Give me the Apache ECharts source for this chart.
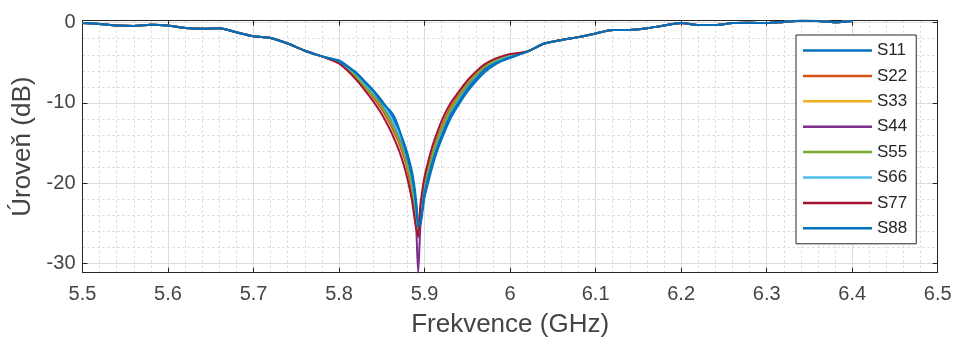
<!DOCTYPE html>
<html>
<head>
<meta charset="utf-8">
<title>S-parametry</title>
<script src="https://cdn.jsdelivr.net/npm/echarts@6/dist/echarts.min.js"></script>
<style>
  html, body { margin: 0; padding: 0; background: #ffffff; }
  #chart { width: 955px; height: 343px; }
</style>
</head>
<body>
<div id="chart"></div>
<script>
// Frequency points (GHz): lower tail, resonance region, upper tail
const freqLow = [5.50, 5.52, 5.54, 5.56, 5.58, 5.60, 5.62, 5.64, 5.66, 5.68, 5.70, 5.72, 5.74, 5.76, 5.78];
const freqDip = [5.80, 5.81, 5.82, 5.83, 5.84, 5.85, 5.86, 5.865, 5.87, 5.875, 5.88, 5.885, 5.8875, 5.89, 5.8925,
                 5.895, 5.8975, 5.90, 5.905, 5.91, 5.915, 5.92, 5.93, 5.94, 5.95, 5.96, 5.97, 5.98, 5.99, 6.00];
const freqHigh = [6.02, 6.04, 6.06, 6.08, 6.10, 6.12, 6.14, 6.16, 6.18, 6.20, 6.22, 6.24, 6.26, 6.28, 6.30,
                  6.32, 6.34, 6.36, 6.38, 6.40];

// Reflection level (dB) shared by all ports away from the resonance
const tailLow = [-0.05, -0.15, -0.35, -0.4, -0.25, -0.35, -0.65, -0.75, -0.7, -1.2, -1.7, -1.9, -2.6, -3.5, -4.2];
const tailHigh = [-3.6, -2.6, -2.15, -1.8, -1.35, -0.9, -0.9, -0.7, -0.35, -0.05, -0.3, -0.3, -0.05, 0.0, -0.05,
                  0.1, 0.25, 0.2, 0.05, 0.2];

// Per-port levels (dB) around the resonance
const dipS11 = [-4.7, -5.4, -6.2, -7.3, -8.4, -9.7, -11.3, -12.3, -13.4, -14.7, -16.3, -18.4, -19.9, -22.0, -24.8,
                -25.2, -23.6, -21.8, -19.6, -17.6, -15.9, -14.5, -12.0, -10.2, -8.6, -7.3, -6.2, -5.4, -4.8, -4.4];
const dipS22 = [-5.0, -5.8, -6.8, -8.0, -9.3, -10.8, -12.7, -13.8, -15.0, -16.5, -18.4, -20.9, -22.8, -25.0, -26.8,
                -23.6, -21.6, -20.0, -17.8, -15.9, -14.3, -12.9, -10.6, -9.0, -7.5, -6.4, -5.4, -4.8, -4.3, -4.0];
const dipS33 = [-4.9, -5.7, -6.6, -7.8, -9.0, -10.4, -12.2, -13.3, -14.4, -15.8, -17.6, -20.0, -21.8, -24.0, -26.3,
                -24.2, -22.2, -20.6, -18.4, -16.4, -14.8, -13.4, -11.0, -9.3, -7.8, -6.6, -5.6, -4.9, -4.4, -4.1];
const dipS44 = [-4.9, -5.7, -6.6, -7.7, -8.9, -10.2, -11.9, -13.0, -14.2, -15.6, -17.5, -20.0, -22.0, -24.8, -31.2,
                -25.6, -23.0, -21.2, -18.9, -16.9, -15.2, -13.8, -11.4, -9.6, -8.0, -6.8, -5.8, -5.0, -4.5, -4.2];
const dipS55 = [-4.9, -5.7, -6.7, -7.9, -9.1, -10.5, -12.3, -13.4, -14.6, -16.0, -17.9, -20.3, -22.1, -24.3, -26.0,
                -24.0, -22.0, -20.4, -18.2, -16.2, -14.6, -13.2, -10.9, -9.2, -7.7, -6.5, -5.5, -4.9, -4.4, -4.1];
const dipS66 = [-4.8, -5.6, -6.4, -7.6, -8.7, -10.0, -11.7, -12.8, -13.9, -15.2, -17.0, -19.2, -20.9, -23.0, -25.5,
                -24.6, -22.8, -21.2, -19.0, -17.0, -15.3, -13.9, -11.5, -9.7, -8.2, -6.9, -5.9, -5.1, -4.6, -4.2];
const dipS77 = [-5.1, -6.0, -7.1, -8.4, -9.8, -11.4, -13.4, -14.6, -15.9, -17.5, -19.5, -22.0, -23.8, -25.6, -26.6,
                -22.8, -20.8, -19.2, -17.0, -15.1, -13.6, -12.2, -10.1, -8.6, -7.2, -6.1, -5.2, -4.6, -4.2, -3.9];
const dipS88 = [-4.8, -5.5, -6.3, -7.4, -8.5, -9.9, -11.0, -11.8, -13.2, -14.9, -16.8, -19.0, -20.6, -22.8, -25.4,
                -24.9, -23.0, -21.2, -19.0, -17.1, -15.5, -14.1, -11.6, -9.9, -8.3, -7.0, -5.9, -5.2, -4.7, -4.3];

const seriesNames = ['S11', 'S22', 'S33', 'S44', 'S55', 'S66', 'S77', 'S88'];
const seriesDips = [dipS11, dipS22, dipS33, dipS44, dipS55, dipS66, dipS77, dipS88];
const seriesColors = ['#0072BD', '#D95319', '#EDB120', '#7E2F8E', '#77AC30', '#4DBEEE', '#A2142F', '#0072BD'];

// Axis ticks
const xTicks = { min: 5.5, max: 6.5, step: 0.1 };
const yRange = { min: -31.17, max: 0.25 };
const yMajorTicks = [0, -10, -20, -30];
const yMinorTicks = [-2, -4, -6, -8, -12, -14, -16, -18, -22, -24, -26, -28];

const freq = freqLow.concat(freqDip, freqHigh);

function buildData(dip) {
  const levels = tailLow.concat(dip, tailHigh);
  return freq.map((f, i) => [f, levels[i]]);
}

const textColor = '#262626';
const labelColor = '#444444';
const axisColor = '#262626';
const fontFamily = '"Liberation Sans", Arial, Helvetica, sans-serif';

const chart = echarts.init(document.getElementById('chart'), null, { renderer: 'canvas' });

const option = {
  animation: false,
  backgroundColor: '#ffffff',
  grid: { left: 82.5, right: 17.3, top: 20.7, bottom: 70.3, containLabel: false },
  legend: {
    orient: 'vertical',
    left: 796,
    top: 35,
    data: seriesNames,
    icon: 'rect',
    itemWidth: 69,
    itemHeight: 2.5,
    itemGap: 8.4,
    padding: [7, 9, 7, 7],
    borderColor: axisColor,
    borderWidth: 1,
    borderRadius: 0,
    backgroundColor: '#ffffff',
    textStyle: { fontFamily: fontFamily, fontSize: 17, color: textColor, lineHeight: 17 }
  },
  xAxis: [
    {
      type: 'value',
      position: 'bottom',
      min: xTicks.min,
      max: xTicks.max,
      interval: xTicks.step,
      name: 'Frekvence (GHz)',
      nameLocation: 'middle',
      nameGap: 39,
      nameTextStyle: { fontFamily: fontFamily, fontSize: 26, color: labelColor },
      axisLine: { show: true, onZero: false, lineStyle: { color: axisColor, width: 1 } },
      axisTick: { show: true, inside: true, length: 5, lineStyle: { color: axisColor } },
      axisLabel: { fontFamily: fontFamily, fontSize: 20, color: labelColor, margin: 12 },
      splitLine: { show: true, lineStyle: { color: '#dcdcdc', width: 1 } },
      minorTick: { show: false, splitNumber: 5 },
      minorSplitLine: { show: true, lineStyle: { color: '#d4d4d4', width: 1, type: [2, 3] } }
    },
    {
      type: 'value',
      position: 'top',
      min: xTicks.min,
      max: xTicks.max,
      interval: xTicks.step,
      axisLine: { show: true, onZero: false, lineStyle: { color: axisColor, width: 1 } },
      axisTick: { show: true, inside: true, length: 5, lineStyle: { color: axisColor } },
      axisLabel: { show: false },
      splitLine: { show: false }
    }
  ],
  yAxis: [
    {
      type: 'value',
      position: 'left',
      min: yRange.min,
      max: yRange.max,
      name: 'Úroveň (dB)',
      nameLocation: 'middle',
      nameGap: 47,
      nameRotate: 90,
      nameTextStyle: { fontFamily: fontFamily, fontSize: 26, color: labelColor },
      axisLine: { show: true, onZero: false, lineStyle: { color: axisColor, width: 1 } },
      axisTick: { show: true, inside: true, length: 5, customValues: yMajorTicks, lineStyle: { color: axisColor } },
      axisLabel: { fontFamily: fontFamily, fontSize: 20, color: labelColor, margin: 7, customValues: yMajorTicks },
      splitLine: { show: true, lineStyle: { color: '#dcdcdc', width: 1 } }
    },
    {
      type: 'value',
      position: 'left',
      min: yRange.min,
      max: yRange.max,
      axisLine: { show: false },
      axisTick: { show: false, customValues: yMinorTicks },
      axisLabel: { show: false, customValues: yMinorTicks },
      splitLine: { show: true, lineStyle: { color: '#d4d4d4', width: 1, type: [2, 3] } }
    },
    {
      type: 'value',
      position: 'right',
      min: yRange.min,
      max: yRange.max,
      axisLine: { show: true, onZero: false, lineStyle: { color: axisColor, width: 1 } },
      axisTick: { show: true, inside: true, length: 5, customValues: yMajorTicks, lineStyle: { color: axisColor } },
      axisLabel: { show: false, customValues: yMajorTicks },
      splitLine: { show: false }
    }
  ],
  series: seriesNames.map((name, i) => ({
    name: name,
    type: 'line',
    xAxisIndex: 0,
    yAxisIndex: 0,
    data: buildData(seriesDips[i]),
    showSymbol: false,
    symbol: 'none',
    smooth: 0.25,
    color: seriesColors[i],
    lineStyle: { width: 2, color: seriesColors[i] },
    z: 2 + i
  }))
};

chart.setOption(option);
</script>
</body>
</html>
